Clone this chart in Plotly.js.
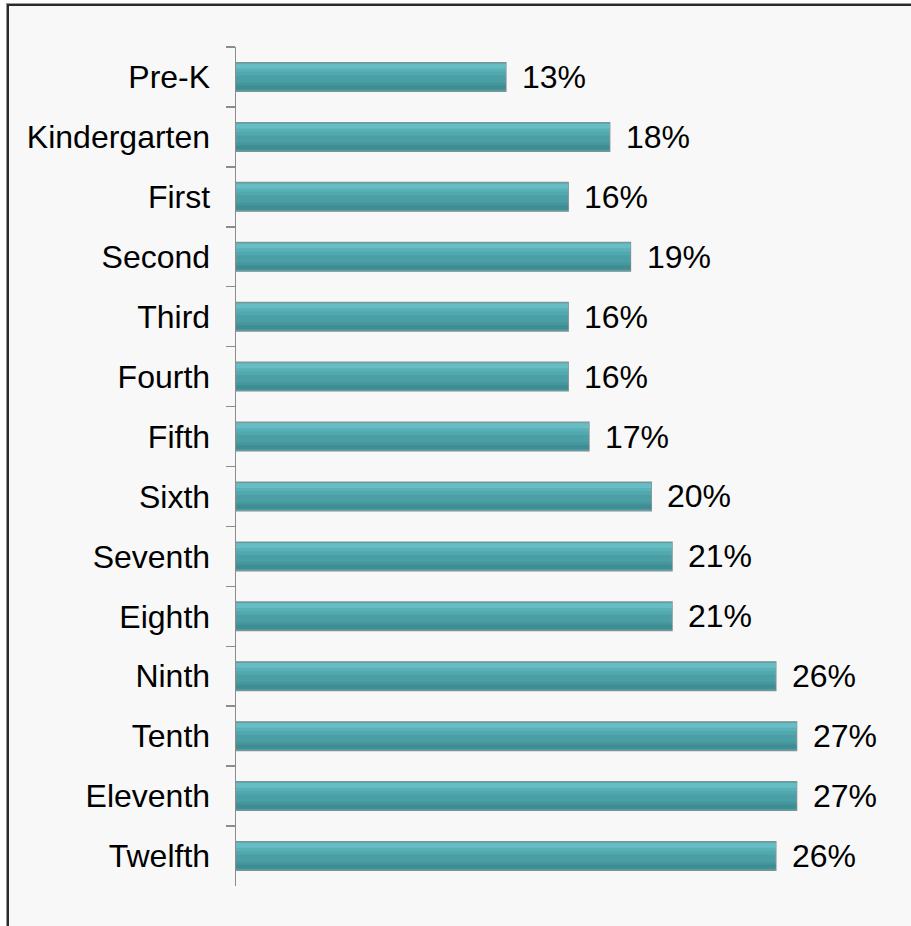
<!DOCTYPE html>
<html>
<head>
<meta charset="utf-8">
<script src="https://cdn.plot.ly/plotly-3.0.1.min.js"></script>
<style>
html,body{margin:0;padding:0;background:#ffffff;width:911px;height:926px;overflow:hidden;}
#frame{position:absolute;left:7px;top:4px;width:904px;height:922px;background:#f8f8f8;border-top:2px solid #2a2a2a;border-left:2px solid #2a2a2a;box-shadow:-1px -1px 0 #9a9a9a;}
#chart{position:absolute;left:0;top:0;width:911px;height:926px;}
</style>
</head>
<body>
<div id="frame"></div>
<div id="chart"></div>
<script>
const grades = ["Pre-K","Kindergarten","First","Second","Third","Fourth","Fifth","Sixth","Seventh","Eighth","Ninth","Tenth","Eleventh","Twelfth"];
const percents = [13,18,16,19,16,16,17,20,21,21,26,27,27,26];
const labels = percents.map(v => v + "%");

const font = "Liberation Sans, Arial, sans-serif";

function layer(width, offset, color, line) {
  return {
    type: "bar",
    orientation: "h",
    y: grades,
    x: percents,
    width: width,
    offset: offset,
    marker: {color: color, line: line || {width: 0}},
    hoverinfo: "skip"
  };
}

const traces = [
  layer(0.48, -0.24, "#4a9fa5", {color: "#7d9394", width: 1.2}),
  layer(0.20, -0.225, "rgba(100,190,196,0.30)"),
  layer(0.14, -0.225, "rgba(110,200,206,0.30)"),
  layer(0.08, -0.22, "rgba(125,212,218,0.35)"),
  layer(0.12, 0.095, "rgba(50,120,125,0.20)"),
  layer(0.07, 0.14, "rgba(45,110,115,0.25)")
];

const annotations = grades.map((g, i) => ({
  x: percents[i],
  y: g,
  xref: "x",
  yref: "y",
  text: labels[i],
  showarrow: false,
  xanchor: "left",
  yanchor: "middle",
  xshift: 14,
  font: {family: font, size: 32, color: "#000000"}
}));

const layout = {
  width: 911,
  height: 926,
  margin: {l: 236, r: 52, t: 47, b: 40},
  paper_bgcolor: "rgba(0,0,0,0)",
  plot_bgcolor: "rgba(0,0,0,0)",
  showlegend: false,
  barmode: "overlay",
  annotations: annotations,
  xaxis: {range: [0, 30], visible: false, fixedrange: true},
  yaxis: {
    type: "category",
    range: [13.5, -0.5],
    showline: true,
    linecolor: "#8c8c8c",
    linewidth: 1.5,
    ticks: "outside",
    tickson: "boundaries",
    ticklen: 9,
    tickcolor: "#8c8c8c",
    tickwidth: 1.5,
    showgrid: false,
    zeroline: false,
    ticklabelstandoff: 18,
    tickfont: {family: font, size: 32, color: "#000000"}
  },
  font: {family: font}
};

Plotly.newPlot("chart", traces, layout, {displayModeBar: false, staticPlot: true});
</script>
</body>
</html>
